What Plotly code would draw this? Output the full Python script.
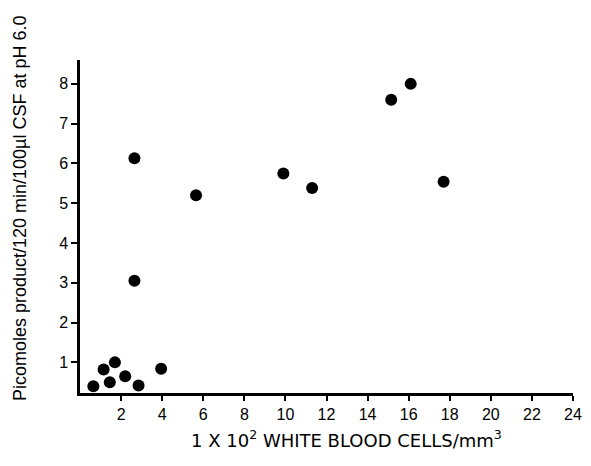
import plotly.graph_objects as go

# White blood cells (x 100 per mm^3)
wbc = [0.65, 1.15, 1.45, 1.7, 2.2, 2.85, 3.95, 2.65, 2.65, 5.65, 9.9, 11.3, 15.15, 16.1, 17.7]
# Picomoles product / 120 min / 100 µl CSF at pH 6.0
product = [0.4, 0.82, 0.5, 1.0, 0.65, 0.42, 0.84, 3.05, 6.13, 5.2, 5.75, 5.38, 7.6, 8.0, 5.54]

x_ticks = [2, 4, 6, 8, 10, 12, 14, 16, 18, 20, 22, 24]
y_ticks = [1, 2, 3, 4, 5, 6, 7, 8]

font = "Liberation Sans, Arial, Helvetica, sans-serif"

fig = go.Figure()
fig.add_trace(go.Scatter(
    x=wbc, y=product, mode="markers",
    marker=dict(size=12, color="black", line=dict(width=0)),
    showlegend=False, cliponaxis=False,
))

fig.update_layout(
    width=583, height=458,
    paper_bgcolor="white", plot_bgcolor="white",
    margin=dict(l=72, r=18, t=52, b=73),
    font=dict(family=font, size=16, color="black"),
    xaxis=dict(
        range=[0, 24], tickvals=x_ticks, ticktext=[str(v) for v in x_ticks],
        showgrid=False, zeroline=False,
        showline=True, linecolor="black", linewidth=2.5,
        ticks="outside", ticklen=5, tickwidth=1.5, tickcolor="black",
        tickfont=dict(size=16), automargin=False,
    ),
    yaxis=dict(
        range=[0.23, 8.6], tickvals=y_ticks, ticktext=[str(v) for v in y_ticks],
        showgrid=False, zeroline=False,
        showline=True, linecolor="black", linewidth=2.5,
        ticks="outside", ticklen=6, tickwidth=1.5, tickcolor="black",
        tickfont=dict(size=16), automargin=False,
    ),
    annotations=[
        dict(text="1 X 10<sup>2</sup> WHITE BLOOD CELLS/mm<sup>3</sup>",
             xref="paper", yref="paper", x=0.54, y=-0.097,
             xanchor="center", yanchor="top", showarrow=False,
             font=dict(size=18, family="DejaVu Sans, sans-serif")),
        dict(text="Picomoles product/120 min/100\u00b5l CSF at pH 6.0",
             xref="paper", yref="paper", x=-0.122, y=0.555,
             xanchor="center", yanchor="middle", textangle=-90, showarrow=False,
             font=dict(size=18)),
    ],
)

fig.write_html("out.html")
